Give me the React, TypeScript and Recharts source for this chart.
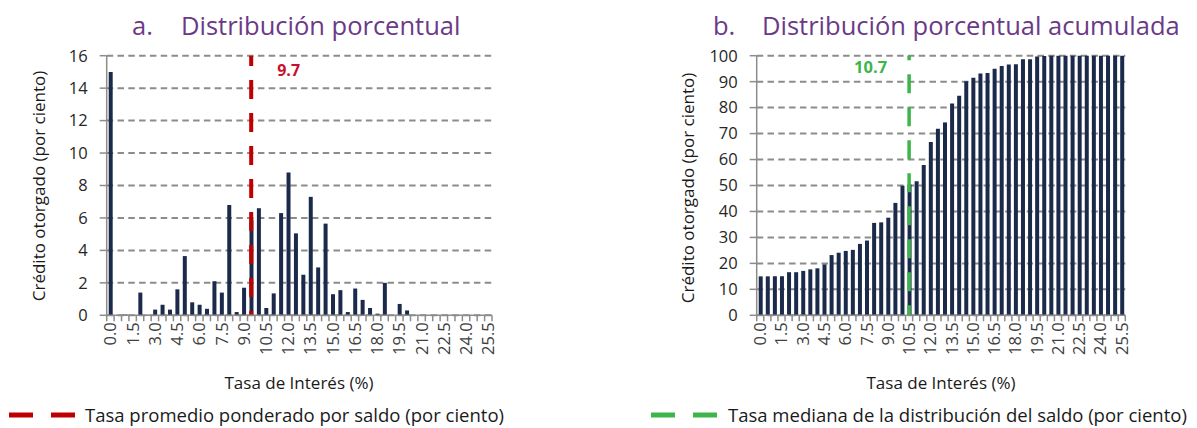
import React from 'react';
import { BarChart, Bar, XAxis, YAxis, CartesianGrid, ReferenceLine } from 'recharts';

const categories = [
  '0.0', '0.5', '1.0', '1.5', '2.0', '2.5', '3.0', '3.5', '4.0', '4.5',
  '5.0', '5.5', '6.0', '6.5', '7.0', '7.5', '8.0', '8.5', '9.0', '9.5',
  '10.0', '10.5', '11.0', '11.5', '12.0', '12.5', '13.0', '13.5', '14.0', '14.5',
  '15.0', '15.5', '16.0', '16.5', '17.0', '17.5', '18.0', '18.5', '19.0', '19.5',
  '20.0', '20.5', '21.0', '21.5', '22.0', '22.5', '23.0', '23.5', '24.0', '24.5',
  '25.0', '25.5',
];

// porcentaje del crédito por tasa
const distribucion = [
  15.0, 0, 0.05, 0, 1.4, 0.03, 0.35, 0.65, 0.35, 1.6,
  3.65, 0.8, 0.65, 0.4, 2.1, 1.4, 6.8, 0.2, 1.7, 5.9,
  6.6, 0.45, 1.35, 6.3, 8.8, 5.05, 2.5, 7.3, 2.95, 5.65,
  1.3, 1.55, 0.2, 1.65, 0.95, 0.45, 0.1, 2.0, 0, 0.7,
  0.3, 0, 0, 0, 0, 0, 0, 0, 0, 0,
  0, 0,
];

// acumulado
const acumulada = [
  15.0, 15.0, 15.05, 15.05, 16.6, 16.6, 17.1, 17.7, 18.1, 19.6,
  23.2, 24.1, 24.8, 25.2, 27.5, 28.8, 35.6, 35.8, 37.6, 43.3,
  49.9, 50.4, 51.6, 57.9, 66.8, 71.9, 74.3, 81.6, 84.6, 90.2,
  91.5, 93.1, 93.3, 95.0, 96.0, 96.6, 96.7, 98.6, 98.6, 99.7,
  99.9, 100, 100, 100, 100, 100, 100, 100, 100, 100,
  100, 100,
];

const leftTicks = [0, 2, 4, 6, 8, 10, 12, 14, 16];
const rightTicks = [0, 10, 20, 30, 40, 50, 60, 70, 80, 90, 100];

const tasaPromedio = 9.7;
const tasaMediana = 10.7;

const toCategory = (v: number) => (Math.floor(v * 2) / 2).toFixed(1);

const leftData = categories.map((c, i) => ({ tasa: c, valor: distribucion[i] }));
const rightData = categories.map((c, i) => ({ tasa: c, valor: acumulada[i] }));

const FONT = '"Open Sans", sans-serif';
const NAVY = '#1B2A4A';
const GRAY = '#8C8C8C';
const PURPLE = '#6B3A87';

const makeXTick = (halfBand: number) => (props: any) => {
  const { x, y, payload, index } = props;
  const off = payload && payload.offset ? payload.offset : halfBand;
  const isLast = index === categories.length - 1;
  return (
    <g>
      <line x1={x - off} x2={x - off} y1={y} y2={y + 6} stroke={GRAY} strokeWidth={1.5} />
      {isLast && <line x1={x + off} x2={x + off} y1={y} y2={y + 6} stroke={GRAY} strokeWidth={1.5} />}
      {index % 3 === 0 && (
        <text
          transform={`translate(${x},${y + 7}) rotate(-90)`}
          textAnchor="end"
          dy="0.36em"
          fontSize={16.5}
          fontFamily={FONT}
          fill="#404040"
        >
          {payload.value}
        </text>
      )}
    </g>
  );
};

const redLabel = (props: any) => {
  const { viewBox } = props;
  return (
    <text x={viewBox.x + 26} y={viewBox.y + 20} fill="#C8102E" fontSize={16} fontWeight="bold" fontFamily={FONT}>
      {tasaPromedio.toFixed(1)}
    </text>
  );
};

const greenLabel = (props: any) => {
  const { viewBox } = props;
  return (
    <text x={viewBox.x - 22} y={viewBox.y + 17} textAnchor="end" fill="#3DB54A" fontSize={16.5} fontWeight="bold" fontFamily={FONT}>
      {tasaMediana.toFixed(1)}
    </text>
  );
};

const yTick = { fontSize: 16.5, fontFamily: FONT, fill: '#262626' };

export default function App() {
  return (
    <div style={{ position: 'fixed', left: 0, top: 0, width: 1197, height: 428, background: '#fff' }}>
      <div style={{ position: 'absolute', left: 0, top: 0 }}>
        <BarChart
          width={600}
          height={428}
          data={leftData}
          margin={{ top: 55.7, right: 108, bottom: 72.7, left: 46.7 }}
        >
          <CartesianGrid vertical={false} stroke={GRAY} strokeWidth={2} strokeDasharray="6.5 4.3" />
          <XAxis
            dataKey="tasa"
            interval={0}
            tickLine={false}
            tickSize={0}
            tickMargin={0}
            height={40}
            axisLine={{ stroke: GRAY, strokeWidth: 1.5 }}
            tick={makeXTick(3.71)}
          />
          <YAxis
            domain={[0, 16]}
            ticks={leftTicks}
            interval={0}
            width={60}
            tickSize={7}
            tickMargin={12}
            tickLine={{ stroke: GRAY, strokeWidth: 1.5 }}
            axisLine={{ stroke: GRAY, strokeWidth: 1.5 }}
            tick={yTick}
          />
          <Bar dataKey="valor" fill={NAVY} barSize={4} isAnimationActive={false} />
          <ReferenceLine
            x={toCategory(tasaPromedio)}
            stroke="#C00000"
            strokeWidth={4}
            strokeDasharray="19 14"
            strokeDashoffset={14.7}
            label={redLabel}
          />
        </BarChart>
      </div>
      <div style={{ position: 'absolute', left: 600, top: 0 }}>
        <BarChart
          width={597}
          height={428}
          data={rightData}
          margin={{ top: 55.7, right: 71.7, bottom: 72.7, left: 96.7 }}
        >
          <CartesianGrid vertical={false} stroke={GRAY} strokeWidth={2} strokeDasharray="6.5 4.3" />
          <XAxis
            dataKey="tasa"
            interval={0}
            tickLine={false}
            tickSize={0}
            tickMargin={0}
            height={40}
            axisLine={{ stroke: GRAY, strokeWidth: 1.5 }}
            tick={makeXTick(3.54)}
          />
          <YAxis
            domain={[0, 100]}
            ticks={rightTicks}
            interval={0}
            width={60}
            tickSize={7}
            tickMargin={12}
            tickLine={{ stroke: GRAY, strokeWidth: 1.5 }}
            axisLine={{ stroke: GRAY, strokeWidth: 1.5 }}
            tick={yTick}
          />
          <Bar dataKey="valor" fill={NAVY} barSize={4} isAnimationActive={false} />
          <ReferenceLine
            x={toCategory(tasaMediana)}
            stroke="#3DB54A"
            strokeWidth={3.5}
            strokeDasharray="19 14"
            strokeDashoffset={9}
            label={greenLabel}
          />
        </BarChart>
      </div>
      <svg
        width={1197}
        height={428}
        style={{ position: 'absolute', left: 0, top: 0, pointerEvents: 'none' }}
        fontFamily={FONT}
      >
        <text x={132} y={35} fontSize={25.5} fill={PURPLE}>a.</text>
        <text x={181} y={35} fontSize={25.5} fill={PURPLE}>Distribución porcentual</text>
        <text x={713} y={35} fontSize={25.5} fill={PURPLE}>b.</text>
        <text x={762} y={35} fontSize={25.5} fill={PURPLE}>Distribución porcentual acumulada</text>

        <text transform="translate(45,186) rotate(-90)" textAnchor="middle" fontSize={17} fill="#1a1a1a">
          Crédito otorgado (por ciento)
        </text>
        <text transform="translate(694,188) rotate(-90)" textAnchor="middle" fontSize={17} fill="#1a1a1a">
          Crédito otorgado (por ciento)
        </text>

        <text x={299} y={389} textAnchor="middle" fontSize={17} fill="#1a1a1a">Tasa de Interés (%)</text>
        <text x={941} y={389} textAnchor="middle" fontSize={17} fill="#1a1a1a">Tasa de Interés (%)</text>

        <line x1={9} x2={75} y1={415} y2={415} stroke="#C00000" strokeWidth={5} strokeDasharray="24 18" />
        <text x={85} y={421.5} fontSize={18.5} fill="#1a1a1a">Tasa promedio ponderado por saldo (por ciento)</text>
        <line x1={651} x2={717} y1={415} y2={415} stroke="#3DB54A" strokeWidth={5} strokeDasharray="24 18" />
        <text x={728} y={421.5} fontSize={18.5} fill="#1a1a1a">Tasa mediana de la distribución del saldo (por ciento)</text>
      </svg>
    </div>
  );
}
